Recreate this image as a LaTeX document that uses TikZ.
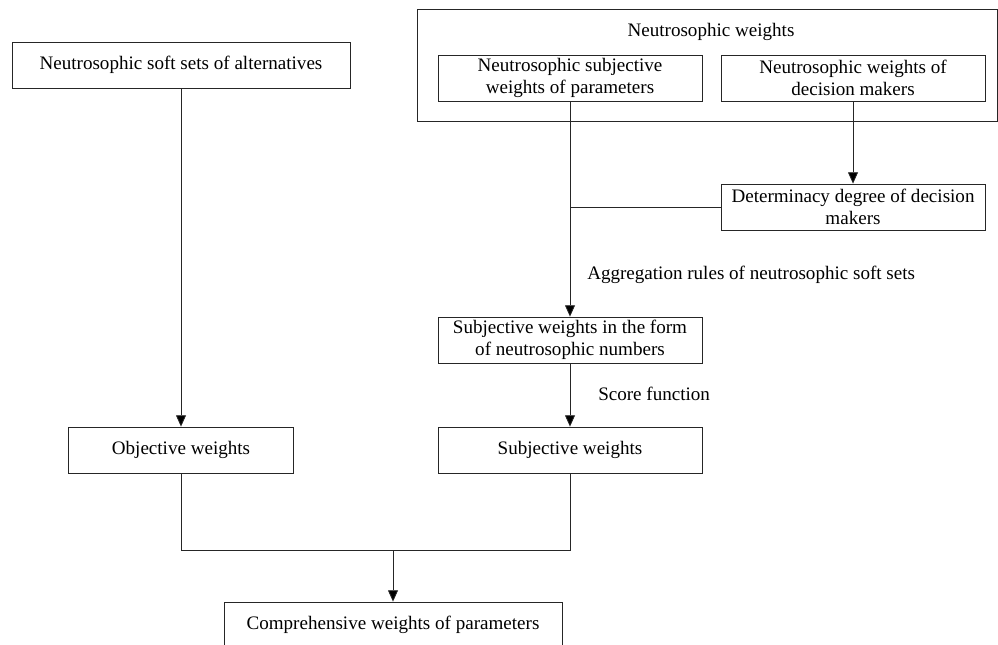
\documentclass[tikz,border=0pt]{standalone}
\usepackage{fontspec}
\setmainfont{Liberation Serif}
\usepackage{tikz}
\usetikzlibrary{positioning}
\usetikzlibrary{arrows.meta}

\tikzset{
	box/.style={draw=black!85, line width=0.6pt, align=center, inner sep=0pt,
		minimum width=198pt, minimum height=34.5pt},
	link/.style={draw=black!85, line width=0.6pt},
	arr/.style={link, -{Triangle[length=8.5pt,width=7.5pt,fill=black]}},
	lbl/.style={anchor=west, inner sep=0pt}
}

\begin{document}
\begin{tikzpicture}[x=0.75pt, y=-0.75pt]
	\fontsize{14.3}{16.5}\selectfont
	
	% frame of the whole picture (998 x 645 px)
	\clip (0,0) rectangle (998,645);
	\useasboundingbox (0,0) rectangle (998,645);
	
	% group of neutrosophic weights
	\node[box, minimum width=435pt, minimum height=84pt] (NW) at (707,65) {};
	\node (NWT) at (711,32) {Neutrosophic weights};
	
	% boxes, positions in px from the top left corner
	\node[box, minimum width=253.5pt] (NS) at (181,65) {Neutrosophic soft sets of alternatives};
	\node[box] (NSW) at (570,78) {Neutrosophic subjective\\weights of parameters};
	\node[box] (NWD) at (853,78) {Neutrosophic weights of\\decision makers};
	\node[box] (DD) at (853,207) {Determinacy degree of decision\\makers};
	\node[box] (SWN) at (570,340) {Subjective weights in the form\\of neutrosophic numbers};
	\node[box] (SW) at (570,450) {Subjective weights};
	\node[box, minimum width=168.75pt] (OW) at (181,450) {Objective weights};
	\node[box, minimum width=253.5pt] (CW) at (393,625) {Comprehensive weights of parameters};
	
	% junctions
	\coordinate (J1) at (570,207);
	\coordinate (M1) at (181,550);
	\coordinate (M2) at (570,550);
	\coordinate (J2) at (393,550);
	
	% connectors
	\draw[arr] (NWD) -- (DD);
	\draw[link] (DD.west) -- (J1);
	\draw[arr] (NSW) -- (SWN);
	\draw[arr] (SWN) -- (SW);
	\draw[arr] (NS) -- (OW);
	\draw[link] (OW) -- (M1) -- (M2) -- (SW);
	\draw[arr] (J2) -- (CW);
	
	% labels beside the arrows
	\node[lbl] (AGG) at (587,275) {Aggregation rules of neutrosophic soft sets};
	\node[lbl] (SCF) at (598,394) {Score function};
	
\end{tikzpicture}
\end{document}
